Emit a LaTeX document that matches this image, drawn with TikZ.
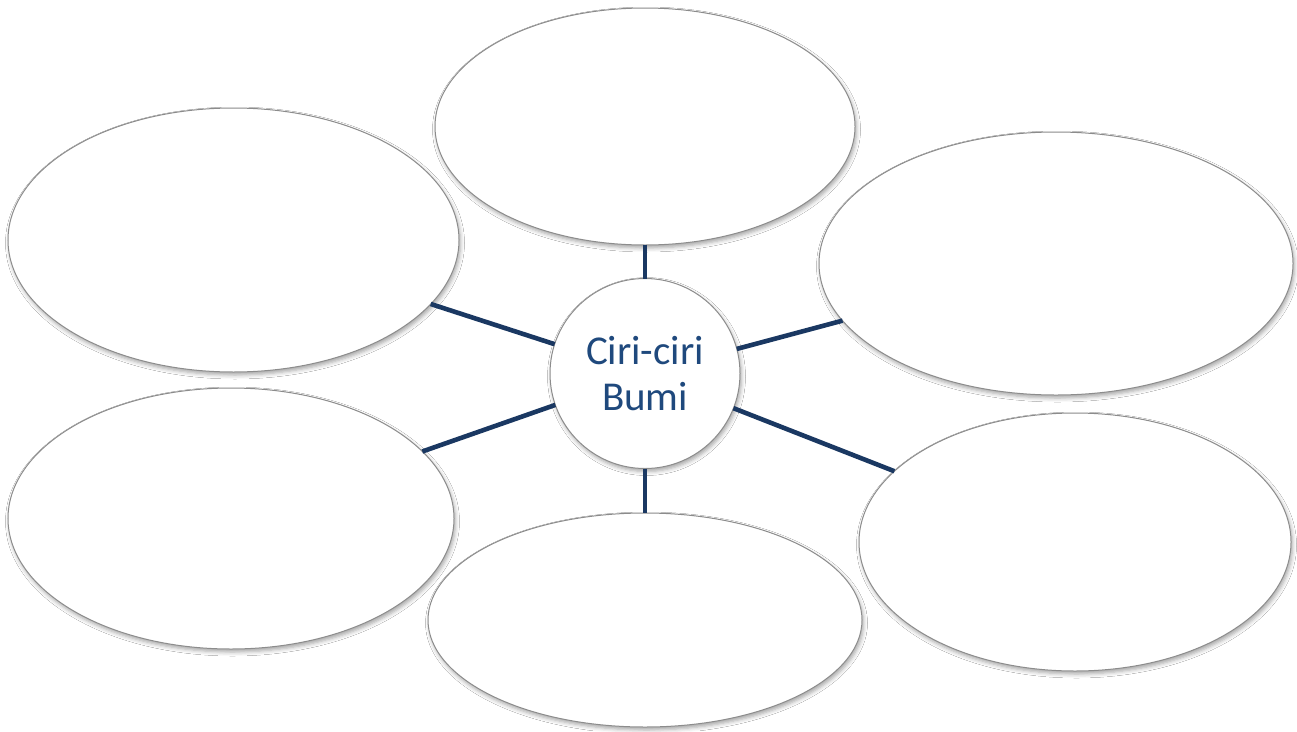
\documentclass[tikz,border=0pt]{standalone}
\usepackage{fontspec}
\setmainfont{Carlito}
\usetikzlibrary{shapes.geometric,shadows.blur}
\definecolor{navy}{RGB}{26,56,98}
\definecolor{txtblue}{RGB}{31,73,125}
\definecolor{rimgray}{RGB}{140,140,140}
\tikzset{
  bubble/.style={ellipse, draw=rimgray, line width=1pt, fill=white, inner sep=0pt, outer sep=0pt,
    blur shadow={shadow xshift=1.5pt, shadow yshift=-3pt, shadow blur radius=4pt, shadow opacity=35}},
  hub/.style={circle, draw=rimgray, line width=1pt, fill=white, inner sep=0pt, outer sep=0pt,
    minimum size=190pt, text=txtblue, align=center,
    font=\fontsize{41}{46}\selectfont,
    blur shadow={shadow xshift=1.5pt, shadow yshift=-3pt, shadow blur radius=4pt, shadow opacity=35}},
  spoke/.style={draw=navy, line width=4.6pt}
}
\begin{document}
\begin{tikzpicture}[x=1pt,y=-1pt]
\fill[white] (0,0) rectangle (1297,731);
\useasboundingbox (0,0) rectangle (1297,731);
\node[bubble, minimum width=420pt, minimum height=237pt] (top) at (645,126.5) {};
\node[bubble, minimum width=451pt, minimum height=264pt] (tl) at (233.5,240) {};
\node[bubble, minimum width=474pt, minimum height=263pt] (tr) at (1056,263.5) {};
\node[bubble, minimum width=446pt, minimum height=261pt] (bl) at (231,518.5) {};
\node[bubble, minimum width=434pt, minimum height=214pt] (bot) at (645,620) {};
\node[bubble, minimum width=432pt, minimum height=258pt] (br) at (1075,542) {};
\node[hub] (c) at (645,373.5) {Ciri-ciri\\Bumi};
\draw[spoke] (c.north) -- (top.south);
\draw[spoke] (c.south) -- (bot.north);
\draw[spoke] (c) -- (tl);
\draw[spoke] (c) -- (bl);
\draw[spoke] (c) -- (tr);
\draw[spoke] (c) -- (br);
\end{tikzpicture}
\end{document}
